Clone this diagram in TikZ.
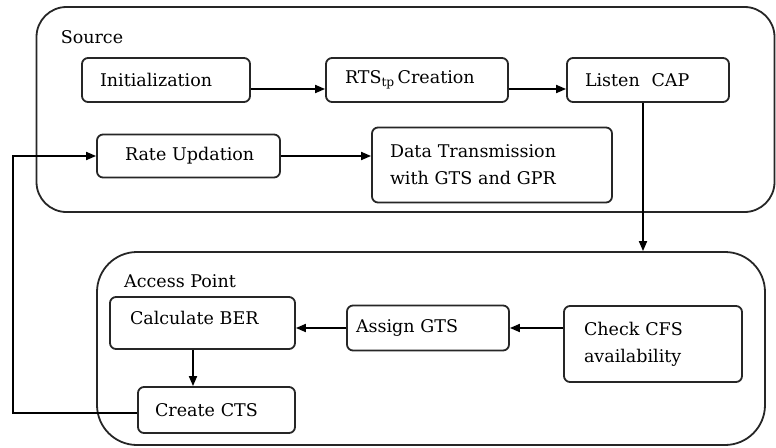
\documentclass[tikz,border=0pt]{standalone}
\usepackage{fontspec}
\setmainfont{DejaVu Serif}
\usetikzlibrary{arrows.meta}
\begin{document}
\begin{tikzpicture}[x=1pt,y=-1pt,
  font=\fontsize{17.5}{27}\selectfont,
  box/.style={draw=black!85, line width=1.8pt, rounded corners=6pt, inner ysep=2pt, align=left},
  cont/.style={draw=black!85, line width=1.8pt, inner sep=0pt},
  arr/.style={line width=1.8pt, -{Triangle[length=10pt,width=8pt]}},
  lbl/.style={inner sep=0pt}]
\useasboundingbox (0,0) rectangle (776,447);
% containers
\node[cont, rounded corners=30pt, minimum width=738pt, minimum height=205pt] (src) at (405.5,109.5) {};
\node[cont, rounded corners=40pt, minimum width=668pt, minimum height=193pt] (ap) at (431,348.5) {};
\node[lbl] (srclbl) at (92,37) {Source};
\node[lbl] (aplbl) at (180,281) {Access Point};
% source boxes
\node[box, inner xsep=18pt, text width=132pt, minimum height=44pt] (init) at (166,80) {Initialization};
\node[box, inner xsep=19pt, text width=144pt, minimum height=44pt] (rts) at (417,80) {RTS\textsubscript{tp}\,Creation};
\node[box, inner xsep=18pt, text width=126pt, minimum height=44pt] (listen) at (648,80) {Listen~~CAP};
\node[box, inner xsep=18pt, text width=147pt, minimum height=43pt] (rate) at (188.5,156) {\hspace*{10pt}Rate Updation};
\node[box, inner xsep=18pt, text width=204pt, minimum height=75pt] (data) at (492,165) {Data Transmission\\with GTS and GPR};
% access point boxes
\node[box, inner xsep=20pt, text width=145pt, minimum height=52pt] (calc) at (202.5,323) {Calculate BER\vphantom{g}\\[-24pt]\strut};
\node[box, inner xsep=17pt, text width=123pt, minimum height=46pt] (create) at (216.5,410) {Create CTS};
\node[box, inner xsep=9pt, text width=144pt, minimum height=45pt] (assign) at (428,328) {Assign GTS};
\node[box, inner xsep=20pt, text width=138pt, minimum height=76pt] (check) at (653,344) {Check CFS\\availability};
% connectors
\draw[arr] ([yshift=-9pt]init.east) -- ([yshift=-9pt]rts.west);
\draw[arr] ([yshift=-9pt]rts.east) -- ([yshift=-9pt]listen.west);
\draw[arr] (rate.east) -- (rate.east -| data.west);
\coordinate (ld) at ([xshift=-5pt]listen.south);
\draw[arr] (ld) -- (ld |- ap.north);
\draw[arr] (check.west |- assign.east) -- (assign.east);
\draw[arr] (assign.west) -- (assign.west -| calc.east);
\coordinate (cd) at ([xshift=-9.5pt]calc.south);
\draw[arr] (cd) -- (cd |- create.north);
\draw[arr] ([yshift=-3pt]create.west) -- ++(-124,0) |- (rate.west);
\end{tikzpicture}
\end{document}
